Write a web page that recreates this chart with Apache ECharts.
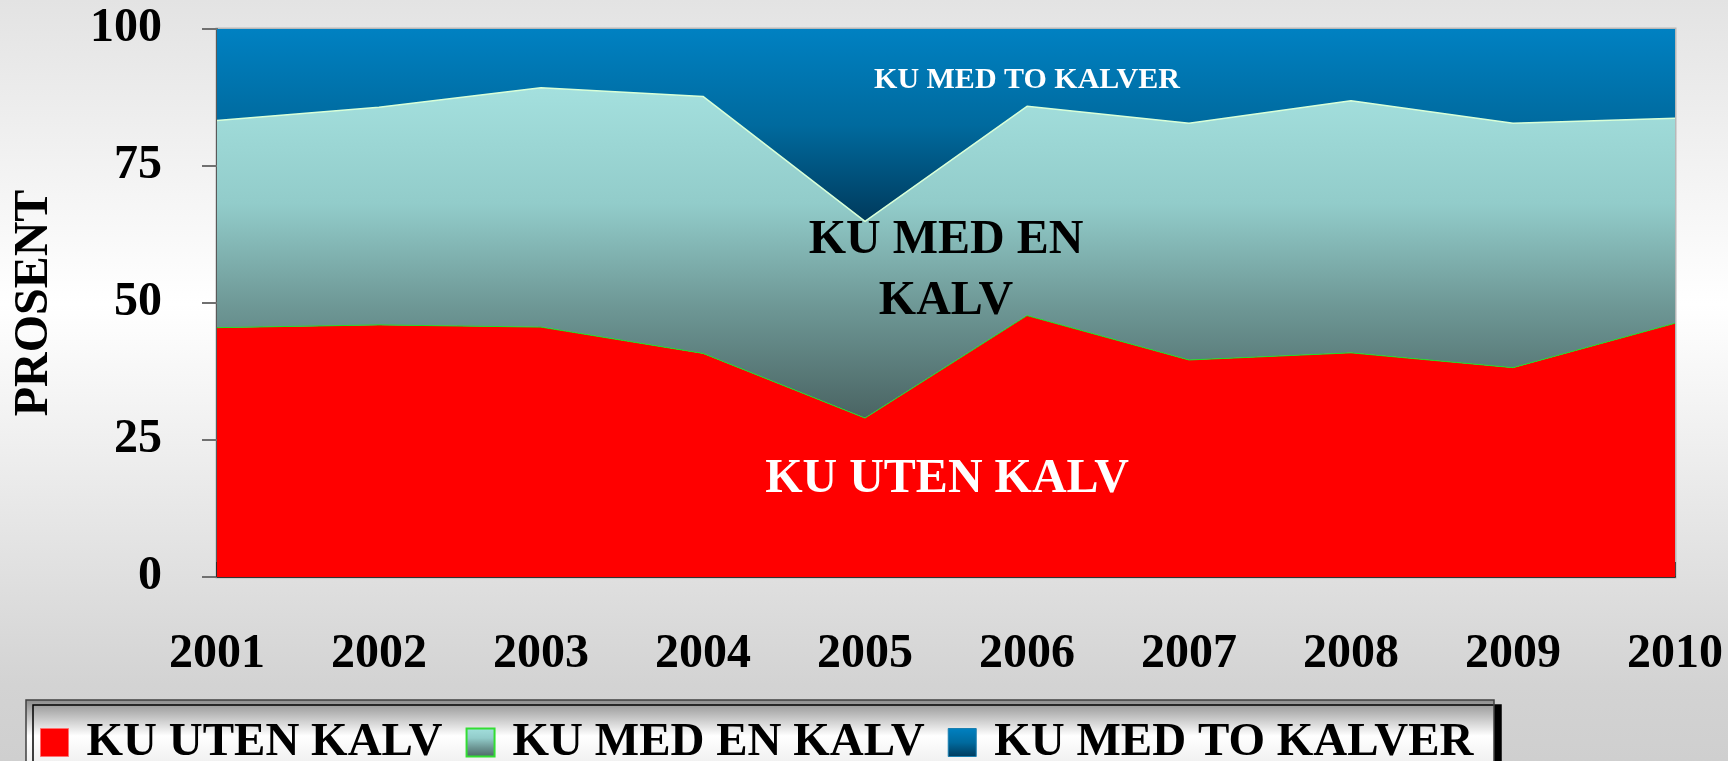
<!DOCTYPE html>
<html>
<head>
<meta charset="utf-8">
<title>Ku med kalv 2001-2010</title>
<script src="https://cdn.jsdelivr.net/npm/echarts@6/dist/echarts.min.js"></script>
<style>
	html, body {margin: 0; padding: 0;}
	#chart {
		width: 1728px;
		height: 761px;
		background: linear-gradient(to bottom, #e3e3e3 0%, #ffffff 40%, #d3d3d3 90%, #cfcfcf 100%);
	}
</style>
</head>
<body>
<div id="chart"></div>
<script>
// data (prosent)
var years = ['2001', '2002', '2003', '2004', '2005', '2006', '2007', '2008', '2009', '2010'];
var utenKalv = [45.5, 46.0, 45.6, 40.8, 29.0, 47.7, 39.6, 40.9, 38.2, 46.3];
var enKalv = [37.8, 39.7, 43.7, 46.9, 35.9, 38.2, 43.2, 46.0, 44.6, 37.4];
var toKalver = [16.7, 14.3, 10.7, 12.3, 35.1, 14.1, 17.2, 13.1, 17.2, 16.3];
var seriesNames = ['KU UTEN KALV', 'KU MED EN KALV', 'KU MED TO KALVER'];
var yTicks = [0, 25, 50, 75, 100];

var FONT = '"Liberation Serif", "Times New Roman", serif';

function grad(stops)
{
	return new echarts.graphic.LinearGradient(0, 0, 0, 1, stops.map(function (s) {
		return {offset: s[0], color: s[1]};
	}));
}

var redFill = '#ff0000';
var greenFill = grad([[0, '#a4e0de'], [0.35, '#92ccca'], [0.66, '#6e9896'], [1, '#4a6463']]);
var blueFill = grad([[0, '#0081c2'], [0.5, '#006a9e'], [1, '#003a5c']]);

var chart = echarts.init(document.getElementById('chart'));

var option = {
	backgroundColor: 'transparent',
	animation: false,
	grid: {
		left: 217,
		right: 53,
		top: 29,
		bottom: 184,
		show: true,
		borderColor: '#b8b8b8',
		borderWidth: 3
	},
	legend: {
		left: 40,
		top: 719,
		padding: 0,
		itemWidth: 28,
		itemHeight: 28,
		itemGap: 23,
		selectedMode: false,
		textStyle: {
			color: '#000',
			fontFamily: FONT,
			fontWeight: 'bold',
			fontSize: 47,
			padding: [0, 0, 0, 13]
		},
		data: [
			{name: seriesNames[0], icon: 'rect', itemStyle: {color: redFill, borderColor: '#ff7070', borderWidth: 1}},
			{name: seriesNames[1], icon: 'rect', itemStyle: {color: greenFill, borderColor: '#33dd33', borderWidth: 2}},
			{name: seriesNames[2], icon: 'rect', itemStyle: {color: blueFill, borderColor: '#1a7fb0', borderWidth: 1}}
		]
	},
	xAxis: {
		type: 'category',
		data: years,
		boundaryGap: false,
		axisLine: {lineStyle: {color: '#333', width: 2}},
		axisTick: {inside: true, length: 15, lineStyle: {color: '#222', width: 1.5}},
		axisLabel: {
			margin: 54,
			color: '#000',
			fontFamily: FONT,
			fontWeight: 'bold',
			fontSize: 48
		}
	},
	yAxis: {
		type: 'value',
		min: yTicks[0],
		max: yTicks[yTicks.length - 1],
		interval: 25,
		name: 'PROSENT',
		nameLocation: 'middle',
		nameRotate: 90,
		nameGap: 158,
		nameTextStyle: {
			color: '#000',
			fontFamily: FONT,
			fontWeight: 'bold',
			fontSize: 48
		},
		splitLine: {show: false},
		axisLine: {show: true, lineStyle: {color: '#5a5a5a', width: 2}},
		axisTick: {show: true, length: 15, lineStyle: {color: '#707070', width: 2}},
		axisLabel: {
			margin: 55,
			color: '#000',
			fontFamily: FONT,
			fontWeight: 'bold',
			fontSize: 48
		}
	},
	series: [
		{
			name: seriesNames[0],
			type: 'line',
			stack: 'ku',
			data: utenKalv,
			showSymbol: false,
			lineStyle: {color: '#22dd22', width: 1},
			areaStyle: {color: redFill, opacity: 1},
			itemStyle: {color: redFill}
		},
		{
			name: seriesNames[1],
			type: 'line',
			stack: 'ku',
			data: enKalv,
			showSymbol: false,
			lineStyle: {color: '#d8ffd8', width: 1.5},
			areaStyle: {color: greenFill, opacity: 1},
			itemStyle: {color: '#9adcd8'}
		},
		{
			name: seriesNames[2],
			type: 'line',
			stack: 'ku',
			data: toKalver,
			showSymbol: false,
			lineStyle: {width: 0},
			areaStyle: {color: blueFill, opacity: 1},
			itemStyle: {color: '#0081c2'}
		}
	],
	graphic: [
		// legend box behind the legend component
		{
			type: 'rect',
			z: 1,
			shape: {x: 26, y: 700, width: 1468, height: 80},
			style: {
				fill: grad([[0, '#8a8a8a'], [0.45, '#ffffff'], [1, '#e6e6e6']]),
				stroke: '#404040',
				lineWidth: 1.5,
				shadowColor: '#000',
				shadowOffsetX: 7,
				shadowOffsetY: 5,
				shadowBlur: 0
			}
		},
		{
			type: 'text',
			z: 10,
			x: 1027,
			y: 80,
			style: {
				text: seriesNames[2],
				fill: '#fff',
				font: 'bold 30px ' + FONT,
				align: 'center',
				verticalAlign: 'middle'
			}
		},
		{
			type: 'text',
			z: 10,
			x: 946,
			y: 271,
			style: {
				text: 'KU MED EN\nKALV',
				fill: '#000',
				font: 'bold 48px ' + FONT,
				lineHeight: 61,
				align: 'center',
				verticalAlign: 'middle'
			}
		},
		{
			type: 'text',
			z: 10,
			x: 947,
			y: 480,
			style: {
				text: seriesNames[0],
				fill: '#fff',
				font: 'bold 48px ' + FONT,
				align: 'center',
				verticalAlign: 'middle'
			}
		}
	]
};

chart.setOption(option);
</script>
</body>
</html>
